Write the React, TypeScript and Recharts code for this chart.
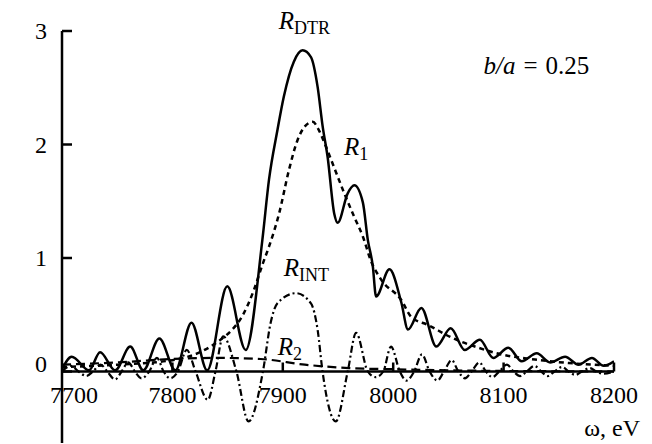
import React from 'react'
import { LineChart, Line, XAxis, YAxis, ReferenceLine, ReferenceDot } from 'recharts'

// photon energy (eV) and reflectivity
const dtrEnergy = [7700, 7708.8, 7724.5, 7734.5, 7748.2, 7761.8, 7773.6, 7788.2, 7802.7, 7817.3, 7831.5, 7849.7, 7866.4, 7881.5, 7887.5, 7895.2, 7900.9, 7910, 7917.9, 7925.5, 7931.5, 7936.1, 7940.6, 7946.6, 7949.7, 7958.8, 7964.8, 7972.5, 7977, 7981.5, 7984.5, 7996.6, 8007.3, 8013.4, 8025.5, 8039.1, 8052.1, 8064.8, 8078.5, 8090.6, 8104.3, 8116.4, 8130, 8142.1, 8155.7, 8167.9, 8180, 8190.6, 8200]
const dtrValue = [0.02, 0.13, 0.01, 0.17, 0.01, 0.22, 0.01, 0.29, 0.01, 0.43, 0.01, 0.75, 0.19, 1.16, 1.69, 2.13, 2.42, 2.73, 2.83, 2.77, 2.51, 2.16, 1.89, 1.39, 1.31, 1.57, 1.64, 1.49, 1.16, 0.93, 0.66, 0.9, 0.61, 0.37, 0.56, 0.22, 0.38, 0.19, 0.28, 0.12, 0.21, 0.09, 0.16, 0.08, 0.13, 0.06, 0.12, 0.05, 0.09]

const r1Energy = [7700, 7750, 7800, 7825, 7843.6, 7854.3, 7863.4, 7873.9, 7881.5, 7887.5, 7896.6, 7905.7, 7913.4, 7920, 7927, 7933, 7937.5, 7945.2, 7955.7, 7964.8, 7972.5, 7980, 7989.1, 8007.3, 8016.4, 8031.5, 8052.7, 8077, 8098.2, 8128.5, 8158.8, 8200]
const r1Value = [0.04, 0.06, 0.1, 0.17, 0.28, 0.37, 0.49, 0.72, 0.94, 1.1, 1.39, 1.78, 2.04, 2.16, 2.2, 2.12, 2.02, 1.83, 1.57, 1.36, 1.19, 0.97, 0.81, 0.63, 0.48, 0.41, 0.3, 0.21, 0.15, 0.105, 0.075, 0.05]

const r2Energy = [7700, 7750, 7800, 7840, 7880, 7920, 7960, 8000, 8050, 8100, 8200]
const r2Value = [0.06, 0.08, 0.11, 0.12, 0.11, 0.06, 0.03, 0.02, 0.01, 0.005, 0]

const intEnergy = [7700, 7708, 7715, 7722, 7728, 7735, 7741, 7748, 7754, 7760, 7766, 7772, 7779, 7786, 7792, 7798, 7805, 7813, 7821, 7832, 7839, 7846, 7858, 7869, 7882, 7889, 7895, 7912, 7925.5, 7931.5, 7936, 7948, 7958.8, 7966.4, 7977, 7984, 7991, 7998, 8006, 8012, 8019, 8026, 8033, 8040, 8046, 8053, 8059, 8065, 8071, 8078, 8084, 8090, 8096, 8103, 8109, 8115, 8121, 8128, 8134, 8140, 8146, 8153, 8159, 8165, 8171, 8178, 8184, 8190, 8200]
const intValue = [0, 0.05, 0, -0.04, 0, 0.06, 0, -0.07, 0, 0.08, 0, -0.06, 0, 0.12, 0, -0.06, 0, 0.19, 0, -0.25, 0, 0.31, 0, -0.44, 0, 0.43, 0.6, 0.69, 0.6, 0.37, 0, -0.44, 0, 0.34, 0, -0.05, 0, 0.22, 0, -0.08, 0, 0.15, 0, -0.08, 0, 0.1, 0, -0.06, 0, 0.08, 0, -0.05, 0, 0.06, 0, -0.04, 0, 0.05, 0, -0.04, 0, 0.04, 0, -0.03, 0, 0.03, 0, -0.02, 0]

const xTicks = [7700, 7800, 7900, 8000, 8100, 8200]
const yTicks = [0, 1, 2, 3]

const toPoints = (xs: number[], ys: number[]) => xs.map((e, i) => ({ e, v: ys[i] }))

const W = 652
const H = 444
const M = { top: 31, right: 38, bottom: 0, left: 0 }
const X_AXIS_H = 1
const Y_MIN = -0.63
const Y_MAX = 3
const FONT = "'Liberation Serif', 'Times New Roman', serif"
const zeroY = M.top + (Y_MAX / (Y_MAX - Y_MIN)) * (H - M.top - M.bottom - X_AXIS_H)

const YTick = (props: any) => {
  const { x, y, payload } = props
  const lift = payload.value === 0 ? -8 : 0
  return (
    <g>
      <line x1={x} y1={y} x2={x + 10} y2={y} stroke="#000" strokeWidth={2.5} />
      <text x={x - 15} y={y + lift} dy="0.35em" textAnchor="end" fontSize={24} fontFamily={FONT} fill="#000">
        {payload.value}
      </text>
    </g>
  )
}

const XTick = (props: any) => {
  const { x, payload, index } = props
  // first label sits right of the y axis
  const shift = index === 0 ? 12 : 0
  return (
    <g>
      {index > 0 && <line x1={x} y1={zeroY} x2={x} y2={zeroY - 9} stroke="#000" strokeWidth={2.5} />}
      <text x={x + shift} y={zeroY + 32} textAnchor="middle" fontSize={24} fontFamily={FONT} fill="#000">
        {payload.value}
      </text>
    </g>
  )
}

// curve labels: R with upright subscript
const curveLabels = [
  { e: 7896.4, v: 3.014, sub: 'DTR' },
  { e: 7955.5, v: 1.907, sub: '1' },
  { e: 7900.9, v: 0.844, sub: 'INT' },
  { e: 7895.5, v: 0.149, sub: '2' },
]

const RLabel = (sub: string) => (p: any) => (
  <text x={p.cx} y={p.cy} fontFamily={FONT} fill="#000">
    <tspan fontSize={25} fontStyle="italic">R</tspan>
    <tspan fontSize={18} dy={5}>{sub}</tspan>
  </text>
)

export default function App() {
  return (
    <div style={{ position: 'absolute', left: 0, top: 0, background: '#fff' }}>
      <LineChart width={W} height={H} margin={M}>
        <XAxis
          type="number"
          dataKey="e"
          domain={[7700, 8200]}
          ticks={xTicks}
          interval={0}
          height={X_AXIS_H}
          axisLine={false}
          tickLine={false}
          tickSize={0}
          tickMargin={0}
          tick={<XTick />}
          allowDataOverflow
        />
        <YAxis
          type="number"
          domain={[Y_MIN, Y_MAX]}
          ticks={yTicks}
          interval={0}
          width={62}
          axisLine={{ stroke: '#000', strokeWidth: 2.5 }}
          tickLine={false}
          tickSize={0}
          tickMargin={0}
          tick={<YTick />}
          allowDataOverflow
        />
        <ReferenceLine y={0} stroke="#000" strokeWidth={2.5} />
        <Line data={toPoints(r2Energy, r2Value)} dataKey="v" type="monotone" stroke="#000" strokeWidth={2.2} strokeDasharray="9 5" dot={false} isAnimationActive={false} />
        <Line data={toPoints(intEnergy, intValue)} dataKey="v" type="monotone" stroke="#000" strokeWidth={2.2} strokeDasharray="7 3 2 3" dot={false} isAnimationActive={false} />
        <Line data={toPoints(r1Energy, r1Value)} dataKey="v" type="monotone" stroke="#000" strokeWidth={2.5} strokeDasharray="5 4" dot={false} isAnimationActive={false} />
        <Line data={toPoints(dtrEnergy, dtrValue)} dataKey="v" type="monotone" stroke="#000" strokeWidth={2.5} dot={false} isAnimationActive={false} />
        {curveLabels.map((l) => (
          <ReferenceDot key={l.sub} x={l.e} y={l.v} r={0} ifOverflow="visible" shape={RLabel(l.sub)} />
        ))}
        <ReferenceDot
          x={8081.8}
          y={2.62}
          r={0}
          ifOverflow="visible"
          shape={(p: any) => (
            <text x={p.cx} y={p.cy} fontSize={25} fontFamily={FONT} fill="#000">
              <tspan fontStyle="italic">b/a</tspan>
              <tspan dx={8}>=</tspan>
              <tspan dx={8}>0.25</tspan>
            </text>
          )}
        />
        <ReferenceDot
          x={8200}
          y={-0.57}
          r={0}
          ifOverflow="visible"
          shape={(p: any) => (
            <text x={p.cx + 26} y={p.cy} fontSize={24} fontFamily={FONT} fill="#000" textAnchor="end">
              ω, eV
            </text>
          )}
        />
      </LineChart>
    </div>
  )
}
